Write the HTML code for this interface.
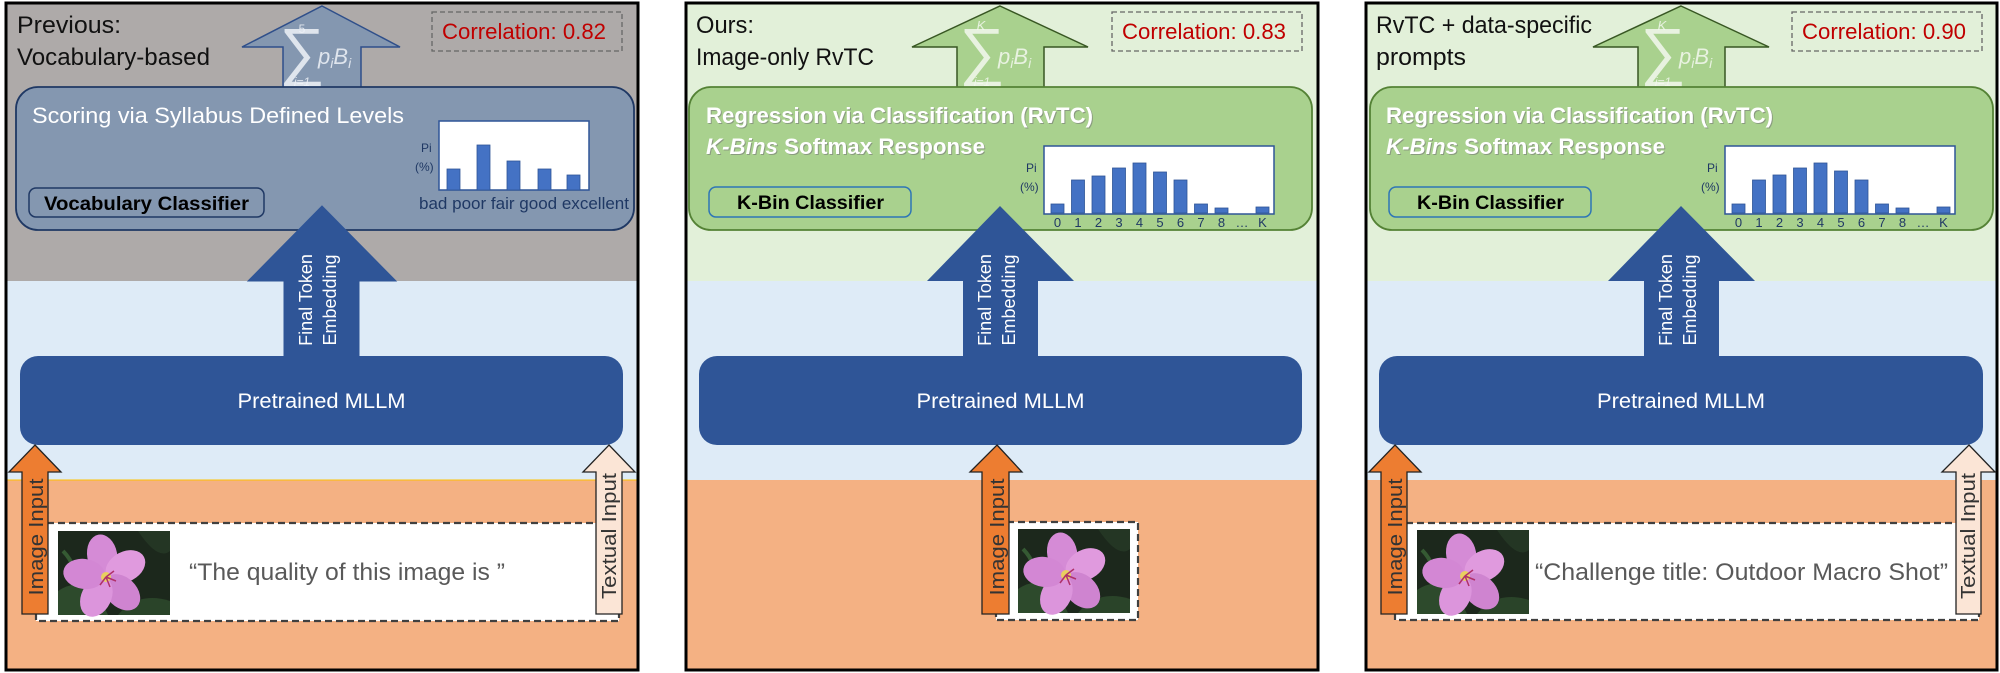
<!DOCTYPE html>
<html><head><meta charset="utf-8"><style>
html,body{margin:0;padding:0;background:#fff;}
svg{display:block;}
text{font-family:"Liberation Sans",sans-serif;}
</style></head><body>
<svg width="2000" height="673" viewBox="0 0 2000 673" xmlns="http://www.w3.org/2000/svg">
<defs>
<g id="flower">
  <rect x="0" y="0" width="112" height="84" fill="#1c281c"/>
  <path d="M0,60 Q30,40 50,84 L0,84Z" fill="#2d4a2c"/>
  <path d="M80,0 Q100,30 112,20 L112,0Z" fill="#243624"/>
  <path d="M60,84 Q80,60 112,70 L112,84Z" fill="#2a4429"/>
  <path d="M5,20 Q20,35 15,55" stroke="#355a33" stroke-width="4" fill="none"/>
  <ellipse cx="20" cy="45" rx="10" ry="5" fill="#3d6b3a"/>
  <g transform="translate(48,46)">
    <ellipse cx="0" cy="-22" rx="15" ry="21" fill="#d58bd6" transform="rotate(-10)"/>
    <ellipse cx="0" cy="-22" rx="15" ry="21" fill="#e09ade" transform="rotate(62)"/>
    <ellipse cx="0" cy="-22" rx="15" ry="21" fill="#cf84d0" transform="rotate(134)"/>
    <ellipse cx="0" cy="-22" rx="15" ry="21" fill="#dc95dc" transform="rotate(206)"/>
    <ellipse cx="0" cy="-22" rx="15" ry="21" fill="#d387d4" transform="rotate(278)"/>
    <circle cx="0" cy="0" r="5" fill="#e8d060"/>
    <path d="M0,0 l8,-6 M0,0 l10,4 M0,0 l4,10 M0,0 l-6,8" stroke="#b0306a" stroke-width="1.5"/>
  </g>
</g>
</defs>

<!-- ============ PANEL 1 ============ -->
<g transform="translate(6,0)">
  <rect x="0" y="3" width="632" height="278" fill="#aeaaa9"/>
  <rect x="0" y="281" width="632" height="199" fill="#deebf7"/>
  <rect x="0" y="480" width="632" height="190" fill="#f4b183"/>
  <line x1="0" y1="480" x2="632" y2="480" stroke="#ffc000" stroke-width="1"/>
  <rect x="0" y="3" width="632" height="667" fill="none" stroke="#000" stroke-width="3"/>

  <text x="11" y="33" font-size="24" fill="#111" textLength="104" lengthAdjust="spacingAndGlyphs">Previous:</text>
  <text x="11" y="65" font-size="24" fill="#111" textLength="193" lengthAdjust="spacingAndGlyphs">Vocabulary-based</text>

  <rect x="426" y="12" width="190" height="39" fill="none" stroke="#666" stroke-width="1.3" stroke-dasharray="5,3"/>
  <text x="436" y="39" font-size="22" fill="#c00000" textLength="164" lengthAdjust="spacingAndGlyphs">Correlation: 0.82</text>

  <polygon points="316,6 394,47 355,47 355,90 277,90 277,47 236,47" fill="#8497b0" stroke="#2f4f8a" stroke-width="1.5"/>
  <g fill="#eef2f8" fill-opacity="0.85">
    <text x="296" y="33" font-size="12" font-family="Liberation Serif" text-anchor="middle">5</text>
    <text x="296" y="73" font-size="64" font-family="Liberation Serif" text-anchor="middle">∑</text>
    <text x="312" y="64" font-size="22" font-family="Liberation Serif" font-style="italic">p<tspan font-size="14" dy="4">i</tspan><tspan dy="-4">B</tspan><tspan font-size="14" dy="4">i</tspan></text>
    <text x="296" y="86" font-size="12" font-family="Liberation Serif" font-style="italic" text-anchor="middle">i=1</text>
  </g>

  <rect x="10" y="87" width="618" height="143" rx="22" fill="#8497b0" stroke="#1f3864" stroke-width="1.8"/>
  <text x="26" y="123" font-size="22" fill="#fff" textLength="372" lengthAdjust="spacingAndGlyphs">Scoring via Syllabus Defined Levels</text>
  <rect x="23" y="188" width="235" height="29" rx="7" fill="none" stroke="#1f3864" stroke-width="1.5"/>
  <text x="38" y="210" font-size="19" font-weight="bold" fill="#000" textLength="205" lengthAdjust="spacingAndGlyphs">Vocabulary Classifier</text>

  <rect x="433" y="121" width="150" height="69" fill="#fff" stroke="#2f5597" stroke-width="1.5"/>
  <g fill="#4472c4" stroke="#2f5597" stroke-width="0.8">
    <rect x="441" y="169" width="13" height="21"/>
    <rect x="471" y="145" width="13" height="45"/>
    <rect x="501" y="161" width="13" height="29"/>
    <rect x="532" y="169" width="13" height="21"/>
    <rect x="561" y="175" width="13" height="15"/>
  </g>
  <text x="415" y="152" font-size="12" fill="#1f3864">Pi</text>
  <text x="409" y="171" font-size="12" fill="#1f3864">(%)</text>
  <text x="413" y="209" font-size="17" fill="#1f3864" textLength="210" lengthAdjust="spacingAndGlyphs">bad poor fair good excellent</text>

  <polygon points="316,206 390,281 353,281 353,357 278,357 278,281 242,281" fill="#2f5597" stroke="#2f5597" stroke-width="1"/>
  <text transform="translate(306,300) rotate(-90)" font-size="18" fill="#fff" text-anchor="middle">Final Token</text>
  <text transform="translate(330,300) rotate(-90)" font-size="18" fill="#fff" text-anchor="middle">Embedding</text>

  <rect x="14" y="356" width="603" height="89" rx="18" fill="#2f5597"/>
  <text x="315.5" y="408" font-size="21" fill="#fff" text-anchor="middle" textLength="168" lengthAdjust="spacingAndGlyphs">Pretrained MLLM</text>

  <rect x="30" y="523" width="583" height="98" fill="#fff" stroke="#404040" stroke-width="2.2" stroke-dasharray="7,4"/>
  <use href="#flower" transform="translate(52,531)"/>
  <text x="183" y="580" font-size="24" fill="#595959" textLength="316" lengthAdjust="spacingAndGlyphs">“The quality of this image is ”</text>

  <polygon points="29,445 55,472 42,472 42,614 16,614 16,472 3,472" fill="#ed7d31" stroke="#222" stroke-width="1.3"/>
  <text transform="translate(37,537) rotate(-90)" font-size="20" fill="#333" text-anchor="middle" textLength="117" lengthAdjust="spacingAndGlyphs">Image Input</text>
  <polygon points="603,445 629,472 616,472 616,614 590,614 590,472 577,472" fill="#fbe5d6" stroke="#222" stroke-width="1.3"/>
  <text transform="translate(610,536) rotate(-90)" font-size="20" fill="#333" text-anchor="middle" textLength="126" lengthAdjust="spacingAndGlyphs">Textual Input</text>
</g>

<!-- ============ PANEL 2 ============ -->
<g transform="translate(686,0)">
  <rect x="0" y="3" width="632" height="278" fill="#e2f0d9"/>
  <rect x="0" y="281" width="632" height="199" fill="#deebf7"/>
  <rect x="0" y="480" width="632" height="190" fill="#f4b183"/>
  <rect x="0" y="3" width="632" height="667" fill="none" stroke="#000" stroke-width="3"/>

  <text x="10" y="33" font-size="24" fill="#111" textLength="58" lengthAdjust="spacingAndGlyphs">Ours:</text>
  <text x="10" y="65" font-size="24" fill="#111" textLength="178" lengthAdjust="spacingAndGlyphs">Image-only RvTC</text>

  <rect x="426" y="12" width="190" height="39" fill="none" stroke="#666" stroke-width="1.3" stroke-dasharray="5,3"/>
  <text x="436" y="39" font-size="22" fill="#c00000" textLength="164" lengthAdjust="spacingAndGlyphs">Correlation: 0.83</text>

  <polygon points="314,6 402,47 358,47 358,88 271,88 271,47 226,47" fill="#a9d18e" stroke="#385723" stroke-width="1.5"/>
  <g fill="#f3f8ef" fill-opacity="0.85">
    <text x="295" y="30" font-size="13" font-family="Liberation Serif" font-style="italic" text-anchor="middle">K</text>
    <text x="296" y="73" font-size="64" font-family="Liberation Serif" text-anchor="middle">∑</text>
    <text x="312" y="64" font-size="22" font-family="Liberation Serif" font-style="italic">p<tspan font-size="14" dy="4">i</tspan><tspan dy="-4">B</tspan><tspan font-size="14" dy="4">i</tspan></text>
    <text x="296" y="86" font-size="12" font-family="Liberation Serif" font-style="italic" text-anchor="middle">i=1</text>
  </g>

  <rect x="3" y="87" width="623" height="143" rx="22" fill="#a9d18e" stroke="#548235" stroke-width="1.8"/>
  <text x="21" y="124" font-size="22" font-weight="bold" fill="#777" fill-opacity="0.6" textLength="387" lengthAdjust="spacingAndGlyphs">Regression via Classification (RvTC)</text>
  <text x="20" y="123" font-size="22" font-weight="bold" fill="#fff" textLength="387" lengthAdjust="spacingAndGlyphs">Regression via Classification (RvTC)</text>
  <text x="21" y="155" font-size="22" font-weight="bold" fill="#777" fill-opacity="0.6" textLength="279" lengthAdjust="spacingAndGlyphs"><tspan font-style="italic">K-Bins</tspan> Softmax Response</text>
  <text x="20" y="154" font-size="22" font-weight="bold" fill="#fff" textLength="279" lengthAdjust="spacingAndGlyphs"><tspan font-style="italic">K-Bins</tspan> Softmax Response</text>
  <rect x="23" y="187" width="202" height="30" rx="7" fill="none" stroke="#2e75b6" stroke-width="1.5"/>
  <text x="51" y="209" font-size="19" font-weight="bold" fill="#000" textLength="147" lengthAdjust="spacingAndGlyphs">K-Bin Classifier</text>

  <rect x="358" y="146" width="230" height="68" fill="#fff" stroke="#2f5597" stroke-width="1.5"/>
  <g fill="#4472c4" stroke="#2f5597" stroke-width="0.8">
    <rect x="365" y="204" width="13" height="9"/>
    <rect x="385.5" y="180" width="13" height="33"/>
    <rect x="406" y="176" width="13" height="37"/>
    <rect x="426.5" y="168" width="13" height="45"/>
    <rect x="447" y="163" width="13" height="50"/>
    <rect x="467.5" y="172" width="13" height="41"/>
    <rect x="488" y="180" width="13" height="33"/>
    <rect x="508.5" y="204" width="13" height="9"/>
    <rect x="529" y="208" width="13" height="5"/>
    <rect x="570" y="207" width="13" height="6"/>
  </g>
  <g font-size="13" fill="#1f3864" text-anchor="middle">
    <text x="371.5" y="227">0</text><text x="392" y="227">1</text><text x="412.5" y="227">2</text><text x="433" y="227">3</text><text x="453.5" y="227">4</text><text x="474" y="227">5</text><text x="494.5" y="227">6</text><text x="515" y="227">7</text><text x="535.5" y="227">8</text><text x="556" y="227">…</text><text x="576.5" y="227">K</text>
  </g>
  <text x="340" y="172" font-size="12" fill="#1f3864">Pi</text>
  <text x="334" y="191" font-size="12" fill="#1f3864">(%)</text>

  <polygon points="314,206 388,281 352,281 352,357 277,357 277,281 241,281" fill="#2f5597"/>
  <text transform="translate(305,300) rotate(-90)" font-size="18" fill="#fff" text-anchor="middle">Final Token</text>
  <text transform="translate(329,300) rotate(-90)" font-size="18" fill="#fff" text-anchor="middle">Embedding</text>

  <rect x="13" y="356" width="603" height="89" rx="18" fill="#2f5597"/>
  <text x="314.5" y="408" font-size="21" fill="#fff" text-anchor="middle" textLength="168" lengthAdjust="spacingAndGlyphs">Pretrained MLLM</text>

  <rect x="310" y="522" width="142" height="98" fill="#fff" stroke="#404040" stroke-width="2.2" stroke-dasharray="7,4"/>
  <use href="#flower" transform="translate(332,529)"/>
  <polygon points="311,445 336,472 323,472 323,614 296,614 296,472 284,472" fill="#ed7d31" stroke="#222" stroke-width="1.3"/>
  <text transform="translate(318,537) rotate(-90)" font-size="20" fill="#333" text-anchor="middle" textLength="117" lengthAdjust="spacingAndGlyphs">Image Input</text>
</g>

<!-- ============ PANEL 3 ============ -->
<g transform="translate(1366,0)">
  <rect x="0" y="3" width="632" height="278" fill="#e2f0d9"/>
  <rect x="0" y="281" width="632" height="199" fill="#deebf7"/>
  <rect x="0" y="480" width="632" height="190" fill="#f4b183"/>
  <rect x="0" y="3" width="631" height="667" fill="none" stroke="#000" stroke-width="3"/>

  <text x="10" y="33" font-size="24" fill="#111" textLength="216" lengthAdjust="spacingAndGlyphs">RvTC + data-specific</text>
  <text x="10" y="65" font-size="24" fill="#111" textLength="90" lengthAdjust="spacingAndGlyphs">prompts</text>

  <rect x="426" y="12" width="190" height="39" fill="none" stroke="#666" stroke-width="1.3" stroke-dasharray="5,3"/>
  <text x="436" y="39" font-size="22" fill="#c00000" textLength="164" lengthAdjust="spacingAndGlyphs">Correlation: 0.90</text>

  <polygon points="315,6 403,47 359,47 359,88 272,88 272,47 227,47" fill="#a9d18e" stroke="#385723" stroke-width="1.5"/>
  <g fill="#f3f8ef" fill-opacity="0.85">
    <text x="296" y="30" font-size="13" font-family="Liberation Serif" font-style="italic" text-anchor="middle">K</text>
    <text x="297" y="73" font-size="64" font-family="Liberation Serif" text-anchor="middle">∑</text>
    <text x="313" y="64" font-size="22" font-family="Liberation Serif" font-style="italic">p<tspan font-size="14" dy="4">i</tspan><tspan dy="-4">B</tspan><tspan font-size="14" dy="4">i</tspan></text>
    <text x="297" y="86" font-size="12" font-family="Liberation Serif" font-style="italic" text-anchor="middle">i=1</text>
  </g>

  <rect x="4" y="87" width="623" height="143" rx="22" fill="#a9d18e" stroke="#548235" stroke-width="1.8"/>
  <text x="21" y="124" font-size="22" font-weight="bold" fill="#777" fill-opacity="0.6" textLength="387" lengthAdjust="spacingAndGlyphs">Regression via Classification (RvTC)</text>
  <text x="20" y="123" font-size="22" font-weight="bold" fill="#fff" textLength="387" lengthAdjust="spacingAndGlyphs">Regression via Classification (RvTC)</text>
  <text x="21" y="155" font-size="22" font-weight="bold" fill="#777" fill-opacity="0.6" textLength="279" lengthAdjust="spacingAndGlyphs"><tspan font-style="italic">K-Bins</tspan> Softmax Response</text>
  <text x="20" y="154" font-size="22" font-weight="bold" fill="#fff" textLength="279" lengthAdjust="spacingAndGlyphs"><tspan font-style="italic">K-Bins</tspan> Softmax Response</text>
  <rect x="23" y="187" width="202" height="30" rx="7" fill="none" stroke="#2e75b6" stroke-width="1.5"/>
  <text x="51" y="209" font-size="19" font-weight="bold" fill="#000" textLength="147" lengthAdjust="spacingAndGlyphs">K-Bin Classifier</text>

  <rect x="359" y="146" width="230" height="68" fill="#fff" stroke="#2f5597" stroke-width="1.5"/>
  <g fill="#4472c4" stroke="#2f5597" stroke-width="0.8">
    <rect x="366" y="204" width="13" height="9"/>
    <rect x="386.5" y="180" width="13" height="33"/>
    <rect x="407" y="175" width="13" height="38"/>
    <rect x="427.5" y="168" width="13" height="45"/>
    <rect x="448" y="163" width="13" height="50"/>
    <rect x="468.5" y="171" width="13" height="42"/>
    <rect x="489" y="180" width="13" height="33"/>
    <rect x="509.5" y="204" width="13" height="9"/>
    <rect x="530" y="208" width="13" height="5"/>
    <rect x="571" y="207" width="13" height="6"/>
  </g>
  <g font-size="13" fill="#1f3864" text-anchor="middle">
    <text x="372.5" y="227">0</text><text x="393" y="227">1</text><text x="413.5" y="227">2</text><text x="434" y="227">3</text><text x="454.5" y="227">4</text><text x="475" y="227">5</text><text x="495.5" y="227">6</text><text x="516" y="227">7</text><text x="536.5" y="227">8</text><text x="557" y="227">…</text><text x="577.5" y="227">K</text>
  </g>
  <text x="341" y="172" font-size="12" fill="#1f3864">Pi</text>
  <text x="335" y="191" font-size="12" fill="#1f3864">(%)</text>

  <polygon points="315,206 389,281 353,281 353,357 278,357 278,281 242,281" fill="#2f5597"/>
  <text transform="translate(306,300) rotate(-90)" font-size="18" fill="#fff" text-anchor="middle">Final Token</text>
  <text transform="translate(330,300) rotate(-90)" font-size="18" fill="#fff" text-anchor="middle">Embedding</text>

  <rect x="13" y="356" width="604" height="89" rx="18" fill="#2f5597"/>
  <text x="315" y="408" font-size="21" fill="#fff" text-anchor="middle" textLength="168" lengthAdjust="spacingAndGlyphs">Pretrained MLLM</text>

  <rect x="29" y="523" width="584" height="97" fill="#fff" stroke="#404040" stroke-width="2.2" stroke-dasharray="7,4"/>
  <use href="#flower" transform="translate(51,530)"/>
  <text x="169" y="580" font-size="24" fill="#595959" textLength="413" lengthAdjust="spacingAndGlyphs">“Challenge title: Outdoor Macro Shot”</text>

  <polygon points="29,445 55,472 41,472 41,614 15,614 15,472 3,472" fill="#ed7d31" stroke="#222" stroke-width="1.3"/>
  <text transform="translate(36,537) rotate(-90)" font-size="20" fill="#333" text-anchor="middle" textLength="117" lengthAdjust="spacingAndGlyphs">Image Input</text>
  <polygon points="603,445 629,472 615,472 615,614 590,614 590,472 576,472" fill="#fbe5d6" stroke="#222" stroke-width="1.3"/>
  <text transform="translate(609,536) rotate(-90)" font-size="20" fill="#333" text-anchor="middle" textLength="126" lengthAdjust="spacingAndGlyphs">Textual Input</text>
</g>
</svg>
</body></html>
